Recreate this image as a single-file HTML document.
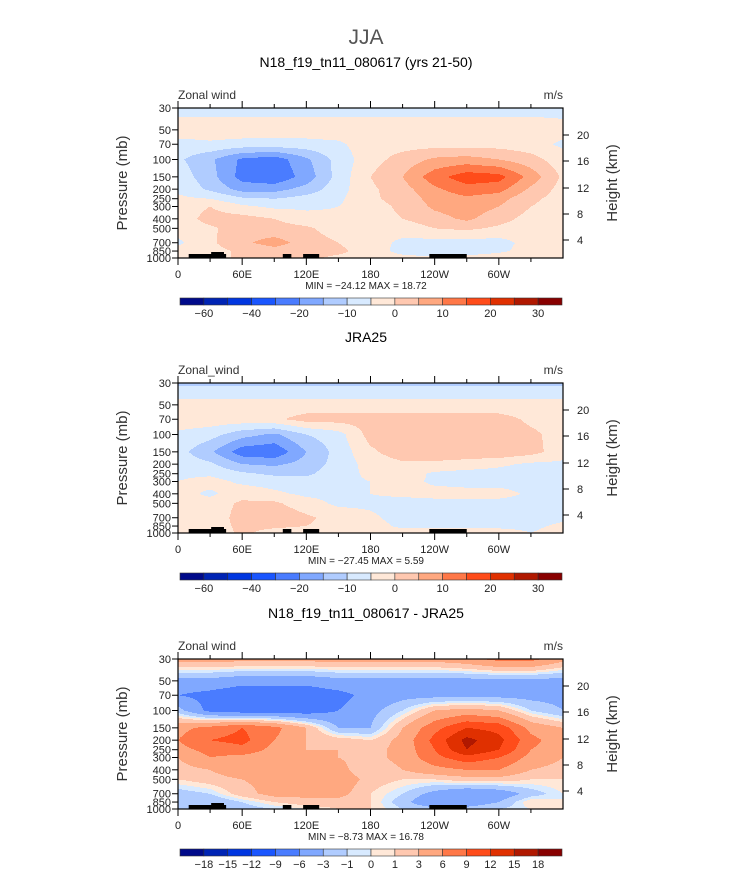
<!DOCTYPE html>
<html><head><meta charset="utf-8">
<style>
body{margin:0;background:#fff;}
#wrap{position:relative;width:733px;height:873px;overflow:hidden;font-family:"Liberation Sans",sans-serif;}
</style></head>
<body>
<div id="wrap">
<svg id="svg" width="733" height="873" xmlns="http://www.w3.org/2000/svg"></svg>
</div>
<script>
const lons=[0,30,60,90,120,150,180,210,240,270,300,330,360];
const levs=[30,50,70,100,150,200,250,300,400,500,700,850,1000];
const colors=["#000a8a","#0024b4","#0036e0","#1a56ff","#4a7cff","#80a8ff","#b0ccff","#d8eaff","#ffe8d8","#ffc8b0","#ffa880","#ff7848","#ff4c1a","#e03000","#b01800","#880000"];
const levels1=[-60,-50,-40,-30,-20,-15,-10,-5,0,5,10,15,20,25,30];
const levels3=[-18,-15,-12,-9,-6,-3,-1,0,1,3,6,9,12,15,18];
const cbLabels1=["−60","","−40","","−20","","−10","","0","","10","","20","","30"];
const cbLabels3=["−18","−15","−12","−9","−6","−3","−1","0","1","3","6","9","12","15","18"];
const pTicks=[30,50,70,100,150,200,250,300,400,500,700,850,1000];
const hTicks=[20,16,12,8,4];
const xTickLabels=["0","60E","120E","180","120W","60W"];
const u1=[
[-7,-7,-7,-7,-7,-7,-7,-7,-7,-7,-7,-7,-7],
[-2,-2,-2,-2,-2,-2,-2,-2,-2,-2,-2,-2,-3],
[-7,-6,-7,-7,-7,-6,-2,-2,-2,-2,-2,-3,-6],
[-9,-14,-21,-23,-16,-8,-2,2,6,7,5,2,-3],
[-7,-13,-22,-24,-18,-8,0,5,13,18,17,8,-1],
[-6,-11,-17,-17,-13,-7,-1,3,9,13,12,4,-2],
[-4,-5,-9,-10,-8,-6,-1,2,7,9,7,1,-2],
[-3,0,-4,-6,-6,-5,-2,1,6,8,5,0,-2],
[-3,2,2,0,-3,-4,-2,0,3,6,2,-2,-3],
[-3,-1,3,2,1,-3,-4,-3,0,1,-1,-3,-3],
[-6,-1,4,7,3,0,-3,-6,-7,-7,-7,-3,-3],
[-3,-2,1,3,2,1,-2,-7,-9,-8,-6,-3,-3],
[-2,-2,1,2,1,-1,-2,-3,-4,-3,-2,-3,-2]];
const u2=[
[-11,-11,-11,-11,-11,-11,-11,-11,-11,-11,-11,-11,-11],
[-3,-3,-3,-3,-3,-3,-3,-3,-3,-3,-3,-3,-3],
[-2,-2,-2,-1,2,2,2,2,2,2,2,-1,-2],
[-6,-8,-13,-16,-10,-7,2,2,3,3,3,1,-2],
[-8,-14,-23,-24,-15,-8,-1,3,3,3,4,2,-3],
[-7,-9,-15,-16,-13,-8,-3,-1,-1,-2,-4,-6,-6],
[-6,-6,-9,-11,-11,-7,-4,-2,-6,-7,-7,-7,-6],
[-5,-3,-6,-7,-8,-6,-5,-3,-6,-7,-7,-7,-6],
[-3,-6,-2,-4,-6,-6,-5,-4,-3,-3,-3,-6,-6],
[-3,-3,1,1,-3,-6,-6,-7,-7,-7,-7,-7,-7],
[-4,-3,2,4,1,-2,-4,-7,-7,-7,-7,-7,-6],
[-3,-2,1,1,0,-2,-3,-6,-6,-6,-6,-6,-4],
[0,-3,1,-2,-3,-3,-3,-3,-2,-2,-3,-5,-3]];
const u3=[
[4,4,4,4,4,4,4,4,4,5,7,7,4],
[-4,-4,-5,-5,-5,-4,-4,-4,-4,-4,-4,-4,-4],
[-6,-7,-8,-8,-8,-7,-5,-4,-4,-4,-4,-4,-4],
[-2,-7,-8,-8,-8,-6,-4,-1,3,4,3,-1,-3],
[5,7,9,7,3,-3,-3,3,8,12,11,5,3],
[6,9,10,6,3,2,1,4,10,16,13,7,4],
[5,7,8,5,3,3,2,4,9,15,12,6,4],
[3,6,5,4,3,3,2,4,8,11,9,5,3],
[2,3,5,3,4,4,1,3,5,6,6,3,2],
[1,2,3,4,4,5,2,1,1,2,2,1,1],
[-2,-1,2,4,4,4,1,-1,-4,-6,-5,-2,0],
[-2,-3,-1,1,2,2,1,-2,-6,-5,-3,1,0],
[-1,-2,-2,-1,0,1,1,-1,-2,-2,-1,0,1]];
const minmax1=["−24.12","18.72"],minmax2=["−27.45","5.59"],minmax3=["−8.73","16.78"];

const NS="http://www.w3.org/2000/svg";
const svg=document.getElementById('svg');
const X0=178,X1=563,PH=150;
function mk(tag,attrs,parent){const e=document.createElementNS(NS,tag);for(const k in attrs)e.setAttribute(k,attrs[k]);(parent||svg).appendChild(e);return e;}
function txt(s,x,y,attrs,parent){const e=mk('text',Object.assign({x:x,y:y,'font-family':'Liberation Sans, sans-serif'},attrs),parent);e.textContent=s;return e;}
const xScale=lon=>X0+lon/360*(X1-X0);
function yScale(top,p){return top+(Math.log10(p)-Math.log10(30))/(3-Math.log10(30))*PH;}
function valueAt(data,lon,p){
  let i=Math.min(11,Math.floor(lon/30));let fx=(lon-lons[i])/30;
  const lp=Math.log10(p);let j=0;while(j<11&&Math.log10(levs[j+1])<lp)j++;
  const a=Math.log10(levs[j]),b=Math.log10(levs[j+1]);let fy=(lp-a)/(b-a);
  fx=Math.max(0,Math.min(1,fx));fy=Math.max(0,Math.min(1,fy));
  const v00=data[j][i],v01=data[j][i+1],v10=data[j+1][i],v11=data[j+1][i+1];
  return (v00*(1-fx)+v01*fx)*(1-fy)+(v10*(1-fx)+v11*fx)*fy;}
function colorIdx(v,lv){let k=0;while(k<lv.length&&v>=lv[k])k++;return k;}

function panel(top,data,lv,title,name,mm,cbY,cbLabels){
  const g=mk('g',{});
  
  
  txt(title,366,top-41,{'font-size':14,'text-anchor':'middle',fill:'#000'},g);
  const fill=mk('g',{},g);
  
  
  const W=X1-X0;
  for(let py=0;py<PH;py++){
    const p=Math.pow(10,Math.log10(30)+(py+0.5)/PH*(3-Math.log10(30)));
    let run=-1,start=0;
    for(let px=0;px<=W;px++){
      let c=-1;
      if(px<W){c=colorIdx(valueAt(data,(px+0.5)/W*360,p),lv);}
      if(c!==run){
        if(run>=0){mk('rect',{x:X0+start,y:top+py,width:px-start,height:1.05,fill:colors[run]},fill);}
        run=c;start=px;
      }
    }
  }
  const topo=[[10,45,4],[31,43,6],[98,106,4],[117,132,4],[235,270,4]];
  topo.forEach(t=>{const r=mk('rect',{x:xScale(t[0]),y:top+PH-t[2],width:xScale(t[1])-xScale(t[0]),height:t[2],fill:'#000'},g);});
  const fr=mk('rect',{x:X0,y:top,width:X1-X0,height:PH,fill:'none',stroke:'#000','stroke-width':1.2},g);
  
  for(let lon=0;lon<360;lon+=30){
    const x=xScale(lon),L=lon%60===0?7:4;
    mk('line',{x1:x,x2:x,y1:top,y2:top-L,stroke:'#000'},g);
    mk('line',{x1:x,x2:x,y1:top+PH,y2:top+PH+L,stroke:'#000'},g);
  }
  xTickLabels.forEach((s,k)=>{const t=txt(s,xScale(k*60),top+PH+20,{'font-size':11,'text-anchor':'middle',fill:'#222'},g);});
  pTicks.forEach(p=>{const y=yScale(top,p);mk('line',{x1:X0,x2:X0-6,y1:y,y2:y,stroke:'#000'},g);
    const t=txt(String(p),X0-7,y+4,{'font-size':11,'text-anchor':'end',fill:'#222'},g);});
  const hOff=[27,53,80,106,132];
  hTicks.forEach((h,k)=>{const y=top+hOff[k];mk('line',{x1:X1,x2:X1+6,y1:y,y2:y,stroke:'#000'},g);
    const t=txt(String(h),X1+14,y+4,{'font-size':11,fill:'#222'},g);});
  const yt=txt('Pressure (mb)',0,0,{'font-size':15,'text-anchor':'middle',fill:'#333',transform:`translate(127,${top+PH/2}) rotate(-90)`},g);
  
  const yt2=txt('Height (km)',0,0,{'font-size':15,'text-anchor':'middle',fill:'#333',transform:`translate(617,${top+PH/2}) rotate(-90)`},g);
  
  const lt=txt(name==='panel-jra25'?'Zonal_wind':'Zonal wind',X0,top-9,{'font-size':12,fill:'#333'},g);
  
  const ut=txt('m/s',X1,top-9,{'font-size':12,'text-anchor':'end',fill:'#333'},g);
  
  const mt=txt(`MIN = ${mm[0]}   MAX = ${mm[1]}`,366,top+PH+31,{'font-size':10,'text-anchor':'middle',fill:'#222','xml:space':'preserve'},g);
  
  const cb=mk('g',{},g);
  
  const cx0=180,cw=(562-180)/16;
  colors.forEach((c,k)=>{mk('rect',{x:cx0+k*cw,y:cbY,width:cw,height:7,fill:c,stroke:'#333','stroke-width':0.6},cb);});
  cbLabels.forEach((s,k)=>{if(s){const t=txt(s,cx0+(k+1)*cw,cbY+19,{'font-size':11,'text-anchor':'middle',fill:'#222'},cb);}});
}
const jt=txt('JJA',366,44,{'font-size':21,'text-anchor':'middle',fill:'#555'});

panel(108,u1,levels1,'N18_f19_tn11_080617 (yrs 21-50)','panel-model',minmax1,298,cbLabels1);
panel(383,u2,levels1,'JRA25','panel-jra25',minmax2,573,cbLabels1);
panel(659,u3,levels3,'N18_f19_tn11_080617 - JRA25','panel-difference',minmax3,849,cbLabels3);
</script>
</body></html>
